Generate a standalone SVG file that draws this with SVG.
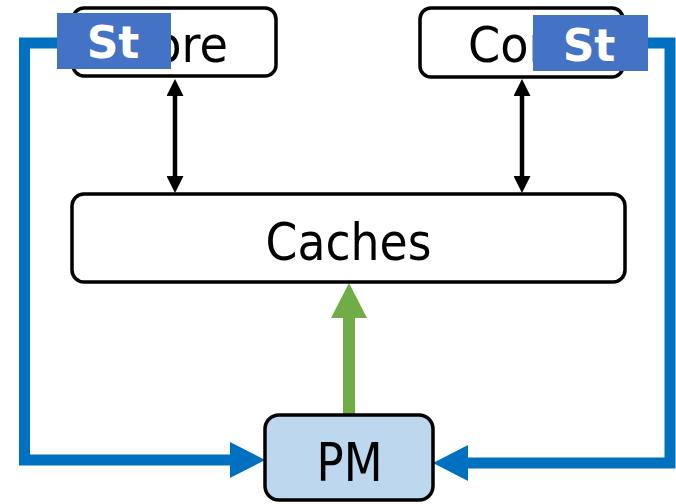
<svg xmlns="http://www.w3.org/2000/svg" width="676" height="504" viewBox="0 0 676 504">
  <style>
    .box { fill: #ffffff; stroke: #000000; stroke-width: 3.5; }
    .pm { fill: #BDD7EE; stroke: #000000; stroke-width: 3.5; }
    .label { font-family: "DejaVu Sans", "Liberation Sans", sans-serif; fill: #000000; text-anchor: middle; }
    .tag { fill: #4472C4; }
    .tagtext { font-family: "DejaVu Sans", "Liberation Sans", sans-serif; font-weight: bold; font-size: 44px; fill: #ffffff; text-anchor: middle; }
    .link { fill: none; stroke: #000000; stroke-width: 4.5; }
    .flow { fill: none; stroke: #0070C0; stroke-width: 11; }
    .fill { fill: none; stroke: #70AD47; stroke-width: 12; }
  </style>
  <defs>
    <marker id="headBlack" markerUnits="userSpaceOnUse" markerWidth="17" markerHeight="17" refX="0" refY="8.5" orient="auto-start-reverse">
      <path d="M0,0 L17,8.5 L0,17 z" fill="#000000"/>
    </marker>
    <marker id="headBlue" markerUnits="userSpaceOnUse" markerWidth="35" markerHeight="36" refX="0" refY="18" orient="auto">
      <path d="M0,0 L35,18 L0,36 z" fill="#0070C0"/>
    </marker>
    <marker id="headGreen" markerUnits="userSpaceOnUse" markerWidth="35" markerHeight="36" refX="0" refY="18" orient="auto">
      <path d="M0,0 L35,18 L0,36 z" fill="#70AD47"/>
    </marker>
  </defs>

  <!-- connectors -->
  <g id="connectors">
    <line class="link" x1="175" y1="96" x2="175" y2="176" marker-start="url(#headBlack)" marker-end="url(#headBlack)"/>
    <line class="link" x1="522" y1="96" x2="522" y2="176" marker-start="url(#headBlack)" marker-end="url(#headBlack)"/>
    <line class="fill" x1="349" y1="415" x2="349" y2="318" marker-end="url(#headGreen)"/>
    <path class="flow" d="M57,43 H24.5 V460 H230" marker-end="url(#headBlue)"/>
    <path class="flow" d="M648,43 H670 V463 H468" marker-end="url(#headBlue)"/>
  </g>

  <!-- left core -->
  <g id="core-left">
    <rect class="box" x="73" y="8" width="203" height="68" rx="11"/>
    <text class="label" x="174.5" y="62" font-size="50" textLength="107" lengthAdjust="spacingAndGlyphs">Core</text>
  </g>

  <!-- right core -->
  <g id="core-right">
    <rect class="box" x="420" y="8" width="203" height="69" rx="11"/>
    <text class="label" x="521.5" y="62" font-size="50" textLength="107" lengthAdjust="spacingAndGlyphs">Core</text>
  </g>

  <!-- store tags over the cores -->
  <g id="tag-left">
    <rect class="tag" x="57" y="13" width="114" height="56"/>
    <text class="tagtext" x="113" y="58">St</text>
  </g>
  <g id="tag-right">
    <rect class="tag" x="533" y="15" width="115" height="56"/>
    <text class="tagtext" x="589" y="61">St</text>
  </g>

  <!-- shared caches -->
  <g id="caches">
    <rect class="box" x="72" y="194" width="553" height="88" rx="12"/>
    <text class="label" x="348.5" y="260" font-size="52" textLength="166" lengthAdjust="spacingAndGlyphs">Caches</text>
  </g>

  <!-- persistent memory -->
  <g id="pm">
    <rect class="pm" x="265" y="415" width="168" height="85" rx="14"/>
    <text class="label" x="349.5" y="481" font-size="54" textLength="66" lengthAdjust="spacingAndGlyphs">PM</text>
  </g>
</svg>
